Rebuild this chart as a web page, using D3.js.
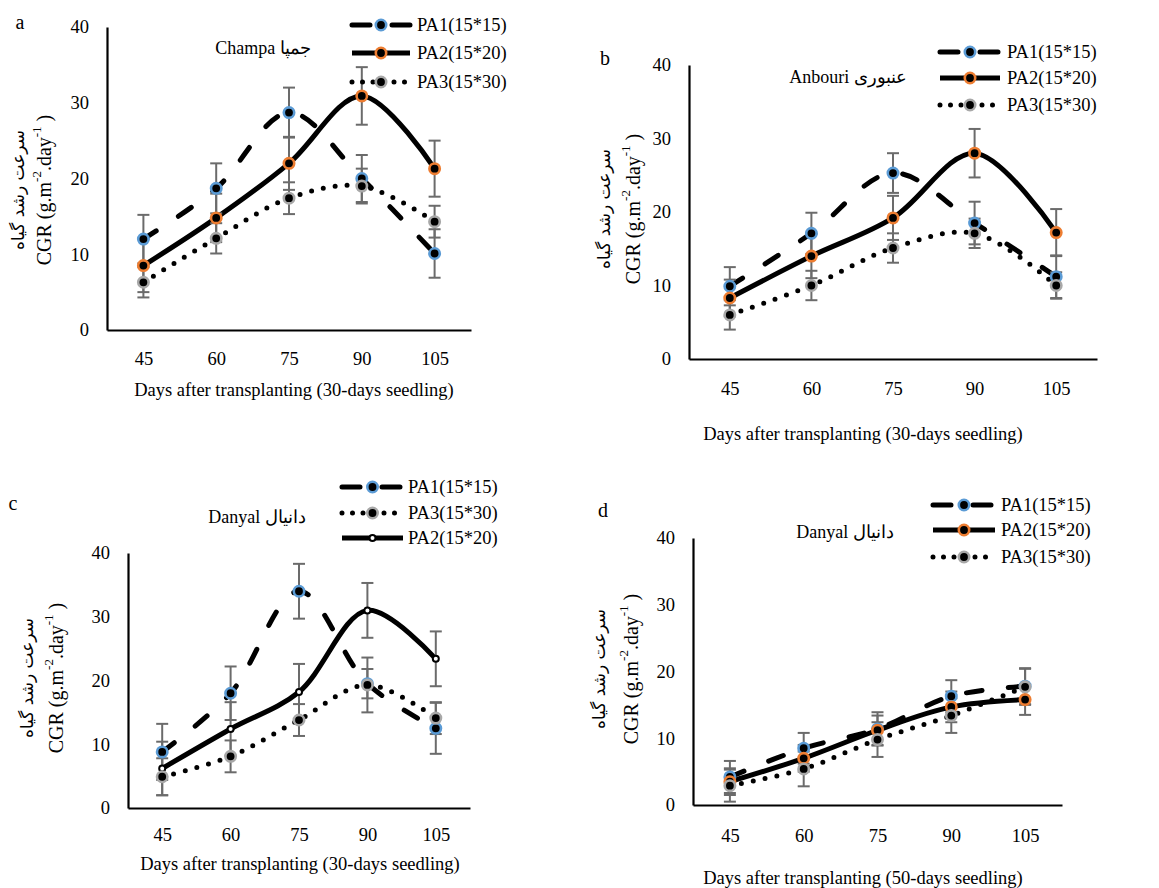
<!DOCTYPE html>
<html>
<head>
<meta charset="utf-8">
<script src="https://cdn.jsdelivr.net/npm/d3@7"></script>
<style>
  body { margin: 0; background: #fff; }
  svg text { font-family: "Liberation Serif", "Times New Roman", serif; fill: #000; }
  .fa { font-family: "DejaVu Sans", sans-serif !important; font-weight: normal; }
</style>
</head>
<body>
<div class="chart"></div>
<script>
// x categories and y ticks, shared by all four panels
var days = ["45", "60", "75", "90", "105"];
var yTicks = [0, 10, 20, 30, 40];
var seriesNames = ["PA1(15*15)", "PA2(15*20)", "PA3(15*30)"];

// a - Champa (30-days seedling)
var champaPA1 = [12.0, 18.7, 28.7, 20.0, 10.1];
var champaPA1Err = [3.2, 3.3, 3.3, 3.1, 3.2];
var champaPA2 = [8.5, 14.8, 22.0, 30.9, 21.3];
var champaPA2Err = [3.5, 3.2, 3.5, 3.8, 3.7];
var champaPA3 = [6.3, 12.1, 17.4, 19.0, 14.3];
var champaPA3Err = [2.0, 2.0, 2.1, 2.3, 2.1];

// b - Anbouri (30-days seedling)
var anbouriPA1 = [9.9, 17.1, 25.3, 18.5, 11.2];
var anbouriPA1Err = [2.6, 2.8, 2.7, 2.9, 2.9];
var anbouriPA2 = [8.3, 14.0, 19.2, 28.0, 17.2];
var anbouriPA2Err = [2.5, 3.0, 3.0, 3.3, 3.2];
var anbouriPA3 = [6.0, 10.0, 15.1, 17.1, 10.0];
var anbouriPA3Err = [2.0, 2.0, 2.0, 2.0, 1.8];

// c - Danyal (30-days seedling)
var danyal30PA1 = [8.8, 18.0, 34.0, 19.5, 12.5];
var danyal30PA1Err = [4.4, 4.2, 4.3, 2.3, 4.0];
var danyal30PA2 = [6.2, 12.4, 18.2, 31.0, 23.4];
var danyal30PA2Err = [4.2, 4.2, 4.4, 4.3, 4.3];
var danyal30PA3 = [4.9, 8.1, 13.8, 19.3, 14.1];
var danyal30PA3Err = [2.9, 2.5, 2.5, 4.3, 2.5];

// d - Danyal (50-days seedling)
var danyal50PA1 = [4.2, 8.5, 11.4, 16.3, 17.8];
var danyal50PA1Err = [2.4, 2.3, 2.5, 2.4, 2.7];
var danyal50PA2 = [3.5, 7.0, 11.2, 14.7, 15.8];
var danyal50PA2Err = [2.0, 2.0, 2.2, 2.3, 2.3];
var danyal50PA3 = [2.9, 5.4, 9.8, 13.4, 17.7];
var danyal50PA3Err = [2.4, 2.6, 2.6, 2.6, 2.7];

// line / marker look for each series
var styles = {
  "PA1(15*15)": { dash: "15.5,26.5", legendDash: "18,22,18", cap: "round", ring: "#5b9bd5" },
  "PA2(15*20)": { dash: null, legendDash: null, cap: "butt", ring: "#ed7d31" },
  "PA3(15*30)": { dash: "0,12", legendDash: "0,10.5", cap: "round", ring: "#a8a8a8" }
};

var panels = [
  { letter: "a", title: "Champa جمپا", xTitle: "Days after transplanting (30-days seedling)",
    series: [[champaPA1, champaPA1Err], [champaPA2, champaPA2Err], [champaPA3, champaPA3Err]],
    left: 107, right: 471, top: 27, bottom: 330, xPad: 22, xTitleX: 294, xTitleY: 396,
    titleX: 263, titleY: 48, letterX: 20, letterY: 22, cgrX: 44, faX: 18, ylabY: 190,
    legend: { x1: 352, x2: 410, tx: 417, ys: [25, 53, 82], order: [0, 1, 2] } },
  { letter: "b", title: "Anbouri عنبوری", xTitle: "Days after transplanting (30-days seedling)",
    series: [[anbouriPA1, anbouriPA1Err], [anbouriPA2, anbouriPA2Err], [anbouriPA3, anbouriPA3Err]],
    left: 689, right: 1097, top: 65, bottom: 359, xPad: 23, xTitleX: 863, xTitleY: 440,
    titleX: 848, titleY: 77, letterX: 605, letterY: 58, cgrX: 633, faX: 604, ylabY: 209,
    legend: { x1: 940, x2: 1000, tx: 1007, ys: [52, 78, 105], order: [0, 1, 2] } },
  { letter: "c", title: "Danyal دانیال", xTitle: "Days after transplanting (30-days seedling)",
    series: [[danyal30PA1, danyal30PA1Err], [danyal30PA2, danyal30PA2Err], [danyal30PA3, danyal30PA3Err]],
    left: 128, right: 470, top: 553, bottom: 808, xPad: 20, xTitleX: 300, xTitleY: 870, smallPA2: true,
    titleX: 257, titleY: 517, letterX: 13, letterY: 503, cgrX: 56, faX: 27, ylabY: 678,
    legend: { x1: 342, x2: 403, tx: 408, ys: [487, 513, 538], order: [0, 2, 1] } },
  { letter: "d", title: "Danyal دانیال", xTitle: "Days after transplanting (50-days seedling)",
    series: [[danyal50PA1, danyal50PA1Err], [danyal50PA2, danyal50PA2Err], [danyal50PA3, danyal50PA3Err]],
    left: 693, right: 1062, top: 538, bottom: 805, xPad: 24, xTitleX: 863, xTitleY: 884,
    titleX: 845, titleY: 532, letterX: 603, letterY: 510, cgrX: 631, faX: 599, ylabY: 669,
    legend: { x1: 933, x2: 995, tx: 1001, ys: [505, 530, 557], order: [0, 1, 2] } }
];

var svg = d3.select(".chart").append("svg")
  .attr("width", 1159)
  .attr("height", 888);

function drawMarker(g, x, y, name, small) {
  if (small) {
    g.append("circle").attr("cx", x).attr("cy", y).attr("r", 3)
      .attr("fill", "#fff").attr("stroke", "#000").attr("stroke-width", 2);
    return;
  }
  g.append("circle").attr("cx", x).attr("cy", y).attr("r", 5.2)
    .attr("fill", "#000").attr("stroke", styles[name].ring).attr("stroke-width", 2.6);
}

panels.forEach(function(p) {
  var g = svg.append("g");

  var x = d3.scalePoint().domain(days).range([p.left, p.right]).padding(0.5);
  var y = d3.scaleLinear().domain([0, 40]).range([p.bottom, p.top]);

  // axes, no tick marks
  var yAxis = g.append("g")
    .attr("transform", "translate(" + p.left + ",0)")
    .call(d3.axisLeft(y).tickValues(yTicks).tickSize(0).tickPadding(18));
  var xAxis = g.append("g")
    .attr("transform", "translate(0," + p.bottom + ")")
    .call(d3.axisBottom(x).tickSize(0).tickPadding(p.xPad));
  [yAxis, xAxis].forEach(function(a) {
    a.select(".domain").attr("stroke", "#000").attr("stroke-width", 2.2);
    a.selectAll("text").attr("font-size", 18.5)
      .attr("font-family", "'Liberation Serif', 'Times New Roman', serif");
  });

  // x title
  g.append("text").attr("x", p.xTitleX).attr("y", p.xTitleY)
    .attr("text-anchor", "middle").attr("font-size", 18.5).text(p.xTitle);

  // y title: english + persian lines
  var cgr = g.append("text")
    .attr("transform", "translate(" + p.cgrX + "," + p.ylabY + ") rotate(-90)")
    .attr("text-anchor", "middle").attr("dominant-baseline", "central")
    .attr("font-size", 20);
  cgr.append("tspan").text("CGR (g.m");
  cgr.append("tspan").attr("font-size", 13).attr("dy", -8).text("-2");
  cgr.append("tspan").attr("dy", 8).text(".day");
  cgr.append("tspan").attr("font-size", 13).attr("dy", -8).text("-1");
  cgr.append("tspan").attr("dy", 8).text(" )");

  g.append("text").attr("class", "fa")
    .attr("transform", "translate(" + p.faX + "," + p.ylabY + ") rotate(-90)")
    .attr("text-anchor", "middle").attr("dominant-baseline", "central")
    .attr("font-size", 17)
    .text("سرعت رشد گیاه");

  // panel letter + cultivar title
  g.append("text").attr("x", p.letterX).attr("y", p.letterY)
    .attr("text-anchor", "middle").attr("dominant-baseline", "central")
    .attr("font-size", 20).text(p.letter);
  g.append("text").attr("x", p.titleX).attr("y", p.titleY)
    .attr("text-anchor", "middle").attr("dominant-baseline", "central")
    .attr("font-size", 18).text(p.title);

  var line = d3.line()
    .x(function(d, i) { return x(days[i]); })
    .y(function(d) { return y(d); })
    .curve(d3.curveCatmullRom.alpha(0.5));

  // lines
  p.series.forEach(function(s, k) {
    var st = styles[seriesNames[k]];
    g.append("path")
      .datum(s[0])
      .attr("d", line)
      .attr("fill", "none")
      .attr("stroke", "#000")
      .attr("stroke-width", 5)
      .attr("stroke-linecap", st.cap)
      .attr("stroke-dasharray", st.dash);
  });

  // error bars
  p.series.forEach(function(s) {
    s[0].forEach(function(v, i) {
      var cx = x(days[i]), e = s[1][i];
      var eg = g.append("g").attr("stroke", "#6b6b6b").attr("stroke-width", 2);
      eg.append("line").attr("x1", cx).attr("x2", cx).attr("y1", y(v - e)).attr("y2", y(v + e));
      eg.append("line").attr("x1", cx - 6).attr("x2", cx + 6).attr("y1", y(v - e)).attr("y2", y(v - e));
      eg.append("line").attr("x1", cx - 6).attr("x2", cx + 6).attr("y1", y(v + e)).attr("y2", y(v + e));
    });
  });

  // markers
  p.series.forEach(function(s, k) {
    s[0].forEach(function(v, i) {
      drawMarker(g, x(days[i]), y(v), seriesNames[k], p.smallPA2 && k == 1);
    });
  });

  // legend
  p.legend.order.forEach(function(k, row) {
    var name = seriesNames[k], st = styles[name];
    var ly = p.legend.ys[row];
    g.append("line")
      .attr("x1", p.legend.x1).attr("x2", p.legend.x2)
      .attr("y1", ly).attr("y2", ly)
      .attr("stroke", "#000").attr("stroke-width", 5)
      .attr("stroke-linecap", st.cap)
      .attr("stroke-dasharray", st.legendDash);
    drawMarker(g, (p.legend.x1 + p.legend.x2) / 2, ly, name, p.smallPA2 && k == 1);
    g.append("text").attr("x", p.legend.tx).attr("y", ly)
      .attr("dominant-baseline", "central").attr("font-size", 18.5).text(name);
  });
});
</script>
</body>
</html>
